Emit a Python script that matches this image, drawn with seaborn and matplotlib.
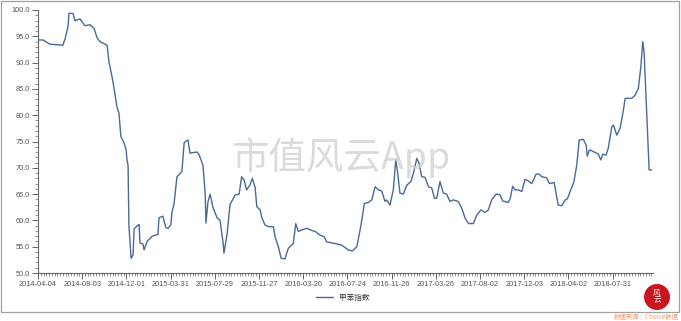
import numpy as np
import pandas as pd
import matplotlib
matplotlib.use("Agg")
import matplotlib.pyplot as plt
from matplotlib.ticker import MultipleLocator, FixedLocator, FormatStrFormatter
from matplotlib.patches import Rectangle, Circle
import seaborn as sns

# ---- data (category position in weeks since 2014-04-04, index value) ----
week_pos = [0, 1.8, 4.3, 9.0, 9.8, 10.9, 11.2, 12.7, 13.4, 15.2, 17.0, 18.8, 20.3, 21.4, 22.4,
            24.3, 25.0, 25.7, 26.8, 27.5, 28.6, 29.3, 30.0, 31.1, 31.9, 32.2, 32.6, 32.9, 33.7,
            34.4, 34.8, 36.2, 36.6, 36.9, 38.0, 38.4, 39.5, 41.3, 43.1, 43.4, 43.8, 45.2, 46.3,
            47.1, 48.1, 48.5, 49.2, 50.3, 52.1, 52.9, 54.3, 55.0, 57.6, 58.3, 59.7, 60.5, 60.8,
            61.5, 62.3, 63.3, 64.8, 65.9, 67.0, 67.3, 68.4, 69.5, 71.3, 72.8, 73.7, 74.6, 75.5,
            76.7, 77.6, 78.6, 79.2, 80.4, 81.0, 82.2, 83.4, 85.2, 85.8, 87.0, 88.0, 89.4, 90.6,
            92.4, 93.3, 94.2, 95.5, 97.3, 98.5, 100.3, 102.1, 103.6, 104.5, 107.5, 109.9, 112.3,
            113.8, 115.4, 116.6, 117.4, 118.1, 119.6, 120.8, 122.0, 123.2, 124.4, 125.6, 126.2,
            127.4, 128.6, 129.5, 130.2, 131.0, 132.2, 133.5, 135.0, 135.9, 137.1, 137.9, 138.9,
            140.1, 141.3, 142.5, 143.5, 144.3, 145.5, 146.7, 147.9, 149.1, 150.3, 152.1, 153.4,
            154.6, 155.8, 157.6, 158.8, 160.3, 161.8, 163.0, 164.2, 165.8, 167.2, 168.2, 170.2,
            170.9, 171.8, 172.7, 173.9, 175.1, 176.3, 177.5, 178.7, 180.3, 181.5, 182.3, 184.1,
            185.1, 186.8, 187.5, 188.3, 189.6, 190.8, 191.6, 192.6, 194.0, 195.0, 195.9, 197.4,
            198.4, 198.8, 199.6, 201.0, 202.8, 203.7, 204.4, 205.6, 206.4, 207.7, 208.3, 209.5,
            210.7, 211.9, 212.5, 214.9, 216.1, 217.3, 218.2, 218.9, 219.4, 219.8, 220.3, 221.2,
            222.1]
toluene_index = [94.3, 94.3, 93.5, 93.3, 94.5, 97.0, 99.4, 99.3, 98.0, 98.3, 97.0, 97.2, 96.5, 94.7, 94.0,
                 93.5, 93.3, 90.1, 87.3, 85.2, 81.5, 80.4, 75.9, 74.8, 73.4, 71.5, 70.5, 59.1, 52.8,
                 53.4, 58.4, 59.1, 59.2, 55.7, 55.5, 54.4, 56.0, 57.0, 57.3, 57.3, 60.5, 60.8, 58.6,
                 58.5, 59.2, 61.6, 63.0, 68.3, 69.3, 74.8, 75.3, 72.8, 73.0, 72.5, 70.5, 65.2, 59.5,
                 63.5, 65.0, 62.5, 60.5, 60.0, 55.7, 53.8, 57.2, 63.0, 64.8, 65.0, 68.3, 67.7, 65.8,
                 66.7, 68.0, 66.2, 62.6, 62.0, 60.5, 59.1, 58.8, 58.8, 56.9, 55.0, 52.8, 52.7, 54.7,
                 55.6, 59.4, 57.9, 58.2, 58.5, 58.2, 57.9, 57.2, 56.9, 55.9, 55.6, 55.3, 54.4,
                 54.2, 55.0, 58.2, 60.7, 63.2, 63.4, 63.9, 66.4, 65.8, 65.6, 63.6, 63.9,
                 62.9, 65.8, 71.5, 69.0, 65.2, 65.0, 66.7, 67.4, 69.0, 71.8, 70.9, 68.3,
                 68.2, 66.4, 66.2, 64.2, 64.2, 67.4, 65.2, 65.0, 63.6, 63.9, 63.6, 62.3,
                 60.4, 59.4, 59.4, 61.0, 62.0, 61.5, 62.0, 63.9, 65.0, 64.9, 63.7, 63.4,
                 64.1, 66.5, 65.8, 65.8, 65.5, 67.8, 67.5, 67.0, 68.8, 68.8, 68.3, 68.1,
                 67.0, 67.2, 65.2, 62.9, 62.8, 63.9, 64.1, 65.5, 67.4, 70.5, 75.3, 75.4,
                 74.3, 72.2, 73.4, 73.1, 72.6, 71.5, 72.6, 72.4, 73.7, 77.8, 78.1, 76.2,
                 77.5, 81.0, 83.2, 83.2, 83.8, 85.1, 89.2, 94.0, 91.8, 86.7, 80.7, 69.6,
                 69.6]
tick_labels = ["2014-04-04", "2014-08-03", "2014-12-01", "2015-03-31", "2015-07-29",
               "2015-11-27", "2016-03-26", "2016-07-24", "2016-11-26", "2017-03-26",
               "2017-08-02", "2017-12-03", "2018-04-02", "2018-07-31"]
tick_step = 16
series_name = "甲苯指数"

df = pd.DataFrame({"week": week_pos, "value": toluene_index})

sns.set_theme(style="white")
plt.rcParams["font.family"] = ["Liberation Sans", "Noto Sans CJK SC", "DejaVu Sans"]

W, H = 681, 321
fig = plt.figure(figsize=(W / 100, H / 100), dpi=100)
fig.patch.set_facecolor("white")
ax = fig.add_axes([38 / W, 1 - 273 / H, (653 - 38) / W, (273 - 10) / H])
ax.set_facecolor("white")

sns.lineplot(data=df, x="week", y="value", ax=ax, color="#4a6a96", linewidth=1.0,
             label=series_name, sort=False)

ax.set_xlim(0, 222.6)
ax.set_ylim(50, 100)
ax.set_xlabel("")
ax.set_ylabel("")

ax.xaxis.set_major_locator(FixedLocator([i * tick_step for i in range(len(tick_labels))]))
ax.set_xticklabels(tick_labels)
ax.xaxis.set_minor_locator(MultipleLocator(1))
ax.yaxis.set_major_locator(MultipleLocator(5))
ax.yaxis.set_minor_locator(MultipleLocator(1))
ax.yaxis.set_major_formatter(FormatStrFormatter("%.1f"))

for s in ["top", "right"]:
    ax.spines[s].set_visible(False)
for s in ["left", "bottom"]:
    ax.spines[s].set_color("#666666")
    ax.spines[s].set_linewidth(0.8)

ax.tick_params(axis="both", which="major", length=4, width=0.7, color="#666666",
               labelsize=5.3, labelcolor="#555555", direction="out", pad=2,
               bottom=True, left=True)
ax.tick_params(axis="both", which="minor", length=2, width=0.5, color="#666666",
               direction="out", bottom=True, left=True)

leg = ax.legend(loc="center", bbox_to_anchor=(343 / W, 1 - 298 / H),
                bbox_transform=fig.transFigure, frameon=False, fontsize=5.5,
                handlelength=2.2, handletextpad=0.8)
for t in leg.get_texts():
    t.set_color("#333333")
    t.set_family(["Noto Sans CJK SC", "DejaVu Sans"])

# watermark
fig.text(341 / W, 1 - 158 / H, "市值风云App", fontsize=27, color="#cfcfcf", alpha=0.75,
         ha="center", va="center", family=["Noto Sans CJK SC", "DejaVu Sans"], zorder=0)

# outer frame
fig.patches.append(Rectangle((1 / W, 1 - 312 / H), 678 / W, 311 / H, transform=fig.transFigure,
                             fill=False, edgecolor="#a0a0a0", linewidth=0.9))

# logo (circle in inch coordinates so it stays round)
fig.patches.append(Circle((6.57, (H - 297) / 100), 0.13, transform=fig.dpi_scale_trans,
                          facecolor="#c9161e", edgecolor="none"))
fig.text(657 / W, 1 - 297 / H, "风\n云", fontsize=5.5, color="white", ha="center", va="center",
         linespacing=0.9, family=["Noto Sans CJK SC", "DejaVu Sans"])

# source
fig.text(679 / W, 1 - 317 / H, "数据来源：Choice数据", fontsize=4.6, color="#f0a070",
         ha="right", va="center", family=["Noto Sans CJK SC", "DejaVu Sans"])

fig.savefig("out.png", dpi=100, facecolor="white")
